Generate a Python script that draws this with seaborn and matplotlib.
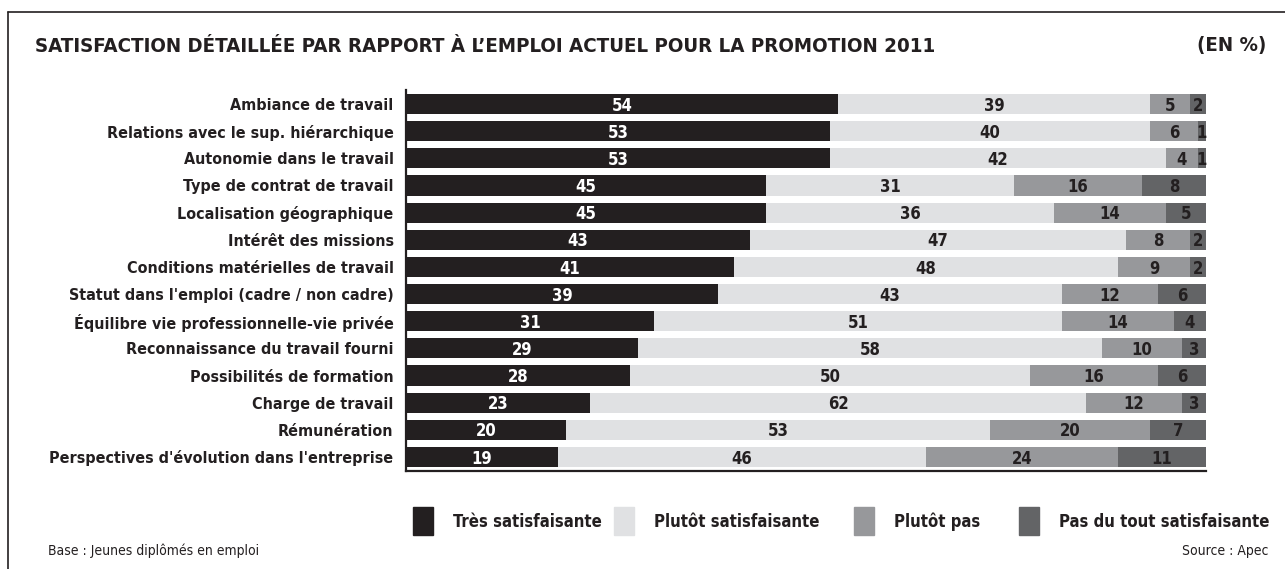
import matplotlib
matplotlib.use("Agg")
import matplotlib.pyplot as plt
import seaborn as sns
import pandas as pd
from matplotlib.lines import Line2D
from matplotlib.patches import Rectangle

criteres = [
    "Ambiance de travail",
    "Relations avec le sup. hiérarchique",
    "Autonomie dans le travail",
    "Type de contrat de travail",
    "Localisation géographique",
    "Intérêt des missions",
    "Conditions matérielles de travail",
    "Statut dans l'emploi (cadre / non cadre)",
    "Équilibre vie professionnelle-vie privée",
    "Reconnaissance du travail fourni",
    "Possibilités de formation",
    "Charge de travail",
    "Rémunération",
    "Perspectives d'évolution dans l'entreprise",
]
tres_satisf = [54, 53, 53, 45, 45, 43, 41, 39, 31, 29, 28, 23, 20, 19]
plutot_satisf = [39, 40, 42, 31, 36, 47, 48, 43, 51, 58, 50, 62, 53, 46]
plutot_pas = [5, 6, 4, 16, 14, 8, 9, 12, 14, 10, 16, 12, 20, 24]
pas_du_tout = [2, 1, 1, 8, 5, 2, 2, 6, 4, 3, 6, 3, 7, 11]

modalites = ["Très satisfaisante", "Plutôt satisfaisante", "Plutôt pas",
             "Pas du tout satisfaisante"]
couleurs = ["#231f20", "#e0e1e3", "#97989b", "#636466"]
texte_couleurs = ["white", "#231f20", "#231f20", "#231f20"]

sns.set_theme(style="white")
plt.rcParams["font.family"] = ["DejaVu Sans"]
plt.rcParams["font.stretch"] = "condensed"
INK = "#231f20"

df = pd.DataFrame({
    "critere": criteres,
    modalites[0]: tres_satisf,
    modalites[1]: plutot_satisf,
    modalites[2]: plutot_pas,
    modalites[3]: pas_du_tout,
})
cumul = df[modalites].cumsum(axis=1)

fig = plt.figure(figsize=(12.85, 5.69), dpi=100)
ax = fig.add_axes([0.316, 0.173, 0.6225, 0.668])

# stacked bars: draw cumulative totals from the widest down
for k in reversed(range(4)):
    sns.barplot(x=cumul[modalites[k]], y=df["critere"], color=couleurs[k],
                orient="h", width=0.74, saturation=1, ax=ax, linewidth=0)

for k in range(4):
    for i, v in enumerate(df[modalites[k]]):
        centre = cumul[modalites[k]].iloc[i] - v / 2
        ax.text(centre, i + 0.06, str(v), ha="center", va="center",
                fontsize=12, fontweight="bold", color=texte_couleurs[k])

ax.set_xlim(0, 100)
ax.set_ylim(13.5, -0.5)
ax.set_xlabel("")
ax.set_ylabel("")
ax.set_xticks([])
ax.tick_params(axis="y", length=0, pad=9)
for lab in ax.get_yticklabels():
    lab.set_fontsize(11.5)
    lab.set_fontweight("bold")
    lab.set_color(INK)
for s in ["top", "right"]:
    ax.spines[s].set_visible(False)
for s in ["left", "bottom"]:
    ax.spines[s].set_color(INK)
    ax.spines[s].set_linewidth(1.6)

# title
fig.text(35 / 1285, 1 - 46 / 569, "SATISFACTION DÉTAILLÉE PAR RAPPORT À L’EMPLOI ACTUEL POUR LA PROMOTION 2011",
         ha="left", va="center", fontsize=14.7, fontweight="bold", color=INK)
fig.text(1266 / 1285, 1 - 46 / 569, "(EN %)", ha="right", va="center",
         fontsize=14.7, fontweight="bold", color=INK)

# legend
leg_x = [413, 614, 854, 1019]
for k in range(4):
    x0 = leg_x[k] / 1285
    fig.patches.append(Rectangle((x0, 1 - 535 / 569), 20 / 1285, 28 / 569,
                                 transform=fig.transFigure, color=couleurs[k]))
    fig.text(x0 + 40 / 1285, 1 - 522 / 569, modalites[k], ha="left", va="center",
             fontsize=12, fontweight="bold", color=INK)

# footer
fig.text(48 / 1285, 1 - 551 / 569, "Base : Jeunes diplômés en emploi", ha="left",
         va="center", fontsize=10, color=INK)
fig.text(1268 / 1285, 1 - 551 / 569, "Source : Apec", ha="right",
         va="center", fontsize=10, color=INK)

# frame lines (top and left)
fig.add_artist(Line2D([8 / 1285, 1], [1 - 12 / 569, 1 - 12 / 569],
                      transform=fig.transFigure, color=INK, lw=1.2))
fig.add_artist(Line2D([8 / 1285, 8 / 1285], [0, 1 - 12 / 569],
                      transform=fig.transFigure, color=INK, lw=1.2))

fig.savefig("out.png", dpi=100, facecolor="white")
